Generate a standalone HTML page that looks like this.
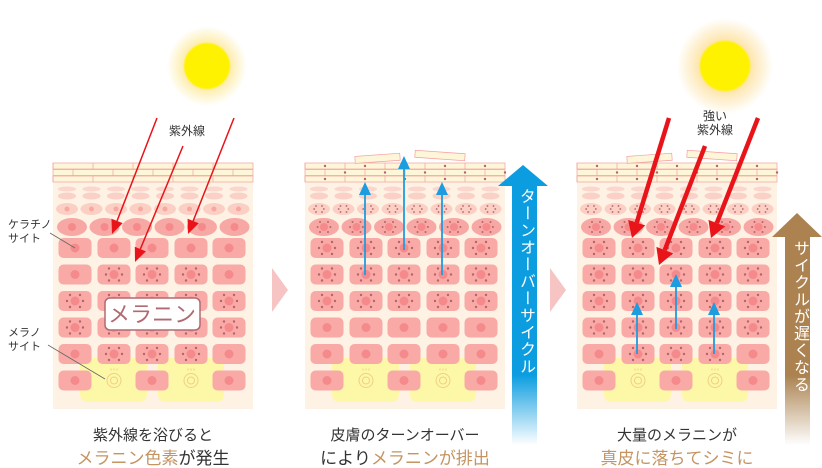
<!DOCTYPE html>
<html><head><meta charset="utf-8">
<style>
html,body{margin:0;padding:0;background:#fff;}
body{width:822px;height:464px;overflow:hidden;position:relative;font-family:"Liberation Sans","Noto Sans CJK JP",sans-serif;}
svg{position:absolute;left:0;top:0;}
.t{position:absolute;color:#333;text-align:center;white-space:nowrap;line-height:1;}
.o{color:#c49462;}
.lab{position:absolute;font-size:11px;color:#333;line-height:14px;white-space:nowrap;}
.vt{position:absolute;writing-mode:vertical-rl;color:#fff;font-size:16px;letter-spacing:1px;}
</style></head><body>
<svg id="s" width="822" height="464" viewBox="0 0 822 464">
<defs>
<radialGradient id="sun1"><stop offset="0.55" stop-color="#fff200"/><stop offset="0.6" stop-color="#fdeeb0"/><stop offset="1" stop-color="#fdeeb0" stop-opacity="0"/></radialGradient>
<radialGradient id="sun2"><stop offset="0.5" stop-color="#fff200"/><stop offset="0.55" stop-color="#fde6b0"/><stop offset="1" stop-color="#fde6b0" stop-opacity="0"/></radialGradient>
<linearGradient id="bl" x1="0" y1="0" x2="0" y2="1"><stop offset="0.75" stop-color="#0b9de0"/><stop offset="1" stop-color="#0b9de0" stop-opacity="0"/></linearGradient>
<linearGradient id="br" x1="0" y1="0" x2="0" y2="1"><stop offset="0.7" stop-color="#ab8250"/><stop offset="1" stop-color="#ab8250" stop-opacity="0"/></linearGradient>
</defs>
<circle cx="207" cy="66" r="40" fill="url(#sun1)"/>
<circle cx="725" cy="66" r="48" fill="url(#sun2)"/>
<polygon points="272,268 288,290 272,312" fill="#f7c4c4"/>
<polygon points="550,268 566,290 550,312" fill="#f7c4c4"/>
<g id="cells"></g>
<polygon points="498,186 523,165 548,186 537,186 537,445 512,445 512,186" fill="url(#bl)"/>
<polygon points="772,237 797,213 822,237 810,237 810,445 785,445 785,237" fill="url(#br)"/>
<line x1="50" y1="233" x2="75" y2="248" stroke="#666" stroke-width="0.8"/>
<line x1="48" y1="345" x2="105" y2="379" stroke="#666" stroke-width="0.8"/>
<rect x="105" y="298" width="95" height="32" rx="5" fill="#fff" stroke="#b06a72" stroke-width="1.5"/>
<text x="152" y="322" font-size="22" fill="#b06a72" text-anchor="middle" font-family="Liberation Sans,Noto Sans CJK JP,sans-serif">メラニン</text>
</svg>
<div class="lab" style="left:169px;top:124px;font-size:12px">紫外線</div>
<div class="lab" style="left:8px;top:218px">ケラチノ<br>サイト</div>
<div class="lab" style="left:8px;top:326px">メラノ<br>サイト</div>
<div class="lab" style="left:697px;top:109px;text-align:center;font-size:12px">強い<br>紫外線</div>
<div class="vt" style="left:513px;top:188px">ターンオーバーサイクル</div>
<div class="vt" style="left:787px;top:240px">サイクルが遅くなる</div>
<div class="t" style="left:53px;width:200px;top:428px;font-size:15px">紫外線を浴びると</div>
<div class="t" style="left:53px;width:200px;top:450px;font-size:17px"><span class="o">メラニン色素</span>が発生</div>
<div class="t" style="left:305px;width:200px;top:428px;font-size:15px">皮膚のターンオーバー</div>
<div class="t" style="left:305px;width:200px;top:450px;font-size:17px">により<span class="o">メラニンが排出</span></div>
<div class="t" style="left:577px;width:200px;top:428px;font-size:15px">大量のメラニンが</div>
<div class="t" style="left:577px;width:200px;top:450px;font-size:17px"><span class="o">真皮に落ちてシミに</span></div>
<script>
var g=document.getElementById('cells'),h='';
function dots(cx,cy,dx,dy,r){var p=[[-dx,-dy],[dx,-dy],[-dx,dy],[dx,dy],[-dx*1.6,0],[dx*1.6,0]];var s='';p.forEach(function(q){s+='<circle cx="'+(cx+q[0])+'" cy="'+(cy+q[1])+'" r="'+r+'" fill="#b5646a"/>';});return s;}
function panel(ox,type){
 h+='<rect x="'+ox+'" y="163" width="200" height="246" fill="#fdf2e4"/>';
 for(var i=0;i<3;i++){var y=163+i*6.5;h+='<rect x="'+ox+'" y="'+y+'" width="200" height="6" fill="#fdf6d8" stroke="#f3a0a0" stroke-width="0.7"/>';
  for(var k=0;k<5;k++){var x=ox+((i%2)?20:0)+k*40;h+='<line x1="'+x+'" y1="'+y+'" x2="'+x+'" y2="'+(y+6)+'" stroke="#f3a0a0" stroke-width="0.7"/>';if(type>0)h+='<circle cx="'+(x+20)+'" cy="'+(y+3)+'" r="1.2" fill="#b5646a"/>';}}
 if(type>0){h+='<rect x="'+(ox+50)+'" y="155" width="45" height="7" fill="#fdf6d8" stroke="#f3a0a0" stroke-width="0.7" transform="rotate(-4 '+(ox+70)+' 158)"/><rect x="'+(ox+110)+'" y="152" width="50" height="7" fill="#fdf6d8" stroke="#f3a0a0" stroke-width="0.7" transform="rotate(4 '+(ox+135)+' 155)"/>';}
 for(var k=0;k<8;k++){var cx=ox+14+k*24.5;h+='<ellipse cx="'+cx+'" cy="189" rx="9" ry="2.5" fill="#fbd6cc"/><ellipse cx="'+cx+'" cy="196" rx="9" ry="3.5" fill="#fbd0c6"/><ellipse cx="'+cx+'" cy="209" rx="11" ry="6" fill="#fbcfc4"/>';
  if(type>0)h+=dots(cx,209,3,3,0.9);else h+='<circle cx="'+cx+'" cy="209" r="2.5" fill="#f7a8a0"/>';}
 for(var k=0;k<6;k++){var cx=ox+19+k*32.5;h+='<ellipse cx="'+cx+'" cy="227" rx="15" ry="9" fill="#f8a8a4"/><circle cx="'+cx+'" cy="227" r="4" fill="#f58a8c"/>';if(type>0)h+=dots(cx,227,4,5,1);}
 [[27,94],[105,171]].forEach(function(a){var x0=ox+a[0],x1=ox+a[1];h+='<path d="M'+x0+' 358 H'+x1+' V394 Q'+x1+' 402 '+(x1-8)+' 402 H'+(x0+8)+' Q'+x0+' 402 '+x0+' 394Z" fill="#fdf8a8"/>';});
 var cols=[22,61,99,138,176];
 for(var r=0;r<6;r++){var cy=248+r*26.5;
  for(var c=0;c<5;c++){var cx=ox+cols[c];
   if(r==5&&(c==1||c==3)){h+='<circle cx="'+cx+'" cy="'+cy+'" r="7" fill="none" stroke="#f0d080"/><circle cx="'+cx+'" cy="'+cy+'" r="3.5" fill="none" stroke="#f0d080"/>';for(var j=-1;j<=1;j++)h+='<line x1="'+(cx+j*3)+'" y1="'+(cy-12)+'" x2="'+(cx+j*3)+'" y2="'+(cy-10)+'" stroke="#f0d080"/>';continue;}
   h+='<rect x="'+(cx-16.5)+'" y="'+(cy-10)+'" width="33" height="20" rx="5" fill="#f9aaa6"/><circle cx="'+cx+'" cy="'+cy+'" r="4.5" fill="#f58a8c"/>';
   var d=false;
   if(type==0)d=(r==1&&c>0&&c<4)||(r==2||r==3)||(r==4&&c>0&&c<4);
   if(type==1)d=r<3;
   if(type==2)d=(r<4)||(r==4&&c>0&&c<4);
   if(d)h+=dots(cx,cy,5,6,1.2);}}
}
panel(53,0);panel(305,1);panel(577,2);
function arr(x1,y1,x2,y2,col,w,hl,hw){var dx=x2-x1,dy=y2-y1,L=Math.sqrt(dx*dx+dy*dy),ux=dx/L,uy=dy/L;var bx=x2-ux*hl,by=y2-uy*hl;
 h+='<line x1="'+x1+'" y1="'+y1+'" x2="'+bx+'" y2="'+by+'" stroke="'+col+'" stroke-width="'+w+'"/>';
 h+='<polygon points="'+x2+','+y2+' '+(bx-uy*hw)+','+(by+ux*hw)+' '+(bx+uy*hw)+','+(by-ux*hw)+'" fill="'+col+'"/>';}
arr(157,118,112,234,'#e8141a',1.5,14,6);arr(183,146,135,262,'#e8141a',1.5,14,6);arr(234,118,188,234,'#e8141a',1.5,14,6);
arr(669,118,632,238,'#e8141a',4.5,16,9);arr(705,146,659,265,'#e8141a',4.5,16,9);arr(758,118,711,238,'#e8141a',4.5,16,9);
arr(365,275,365,182,'#1d9ce0',1.8,13,6);arr(404,250,404,156,'#1d9ce0',1.8,13,6);arr(442,275,442,182,'#1d9ce0',1.8,13,6);
arr(637,354,637,302,'#1d9ce0',1.8,13,6);arr(676,329,676,274,'#1d9ce0',1.8,13,6);arr(714,354,714,302,'#1d9ce0',1.8,13,6);
g.innerHTML=h;
</script>
</body></html>
